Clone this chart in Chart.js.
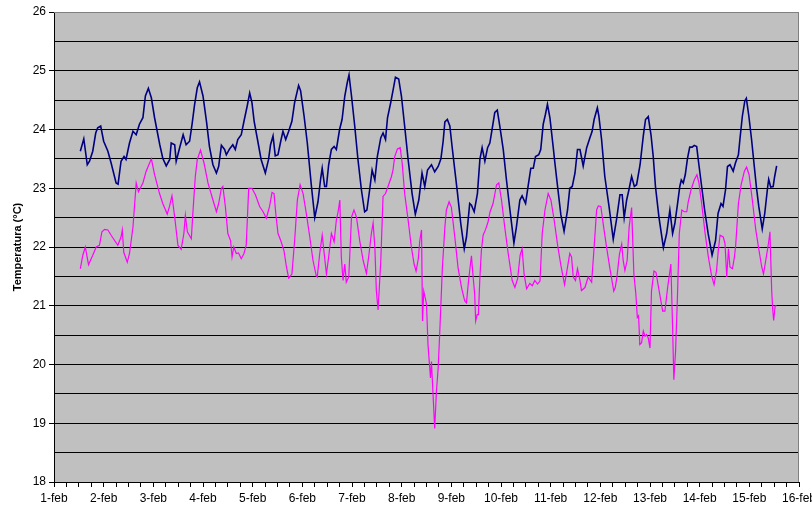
<!DOCTYPE html>
<html>
<head>
<meta charset="utf-8">
<script src="https://cdn.jsdelivr.net/npm/chart.js@4"></script>
<style>
  body { margin: 0; background: #fff; overflow: hidden; }
</style>
</head>
<body>
<canvas id="grafico" width="812" height="512"></canvas>
<script>
// días de febrero (eje x) y etiquetas
const etiquetasDias = ['1-feb', '2-feb', '3-feb', '4-feb', '5-feb', '6-feb', '7-feb', '8-feb',
    '9-feb', '10-feb', '11-feb', '12-feb', '13-feb', '14-feb', '15-feb', '16-feb'];
const etiquetasTemp = [18, 19, 20, 21, 22, 23, 24, 25, 26];

// [día, temperatura °C]
const serieAzul = [
    [1.53,23.63],[1.60,23.84],[1.67,23.40],[1.715,23.46],[1.78,23.63],[1.84,23.94],[1.88,24.03],[1.94,24.06],
    [2.00,23.80],[2.085,23.63],[2.15,23.43],[2.25,23.09],[2.29,23.07],[2.35,23.46],[2.41,23.54],[2.45,23.49],
    [2.52,23.77],[2.59,23.97],[2.655,23.91],[2.72,24.09],[2.79,24.20],[2.84,24.57],[2.90,24.70],[2.96,24.54],
    [3.025,24.20],[3.13,23.74],[3.19,23.51],[3.26,23.38],[3.33,23.49],[3.36,23.77],[3.43,23.74],[3.46,23.46],
    [3.53,23.69],[3.60,23.91],[3.66,23.74],[3.73,23.80],[3.78,24.09],[3.83,24.42],[3.885,24.71],[3.93,24.81],
    [4.00,24.57],[4.07,24.14],[4.13,23.71],[4.20,23.40],[4.27,23.26],[4.315,23.37],[4.37,23.73],[4.435,23.66],
    [4.47,23.57],[4.535,23.67],[4.60,23.74],[4.65,23.66],[4.70,23.83],[4.77,23.91],[4.825,24.14],[4.89,24.40],
    [4.94,24.62],[4.985,24.46],[5.03,24.14],[5.11,23.77],[5.17,23.49],[5.255,23.26],[5.32,23.49],[5.36,23.74],
    [5.41,23.89],[5.455,23.55],[5.51,23.57],[5.565,23.80],[5.61,23.97],[5.665,23.83],[5.725,23.97],[5.79,24.14],
    [5.845,24.46],[5.925,24.75],[5.965,24.66],[6.035,24.23],[6.10,23.77],[6.18,23.06],[6.25,22.50],[6.315,22.77],
    [6.37,23.17],[6.40,23.34],[6.45,23.03],[6.485,23.03],[6.53,23.40],[6.585,23.66],[6.64,23.71],[6.685,23.66],
    [6.75,24.00],[6.80,24.17],[6.855,24.57],[6.905,24.80],[6.94,24.93],[6.99,24.57],[7.055,24.06],[7.12,23.49],
    [7.19,22.97],[7.255,22.60],[7.30,22.63],[7.355,22.97],[7.405,23.31],[7.46,23.14],[7.51,23.54],[7.58,23.86],
    [7.625,23.94],[7.675,23.83],[7.715,24.20],[7.78,24.46],[7.825,24.66],[7.875,24.89],[7.94,24.86],[7.995,24.57],
    [8.06,24.06],[8.13,23.49],[8.21,22.91],[8.275,22.56],[8.345,22.80],[8.41,23.26],[8.465,23.03],[8.52,23.31],
    [8.60,23.40],[8.665,23.28],[8.735,23.37],[8.79,23.50],[8.835,23.80],[8.87,24.13],[8.92,24.17],[8.97,24.06],
    [9.015,23.71],[9.07,23.31],[9.125,22.91],[9.19,22.40],[9.26,21.97],[9.305,22.17],[9.37,22.74],[9.405,22.71],
    [9.46,22.60],[9.525,22.91],[9.575,23.49],[9.62,23.69],[9.675,23.46],[9.73,23.69],[9.775,23.77],[9.82,24.00],
    [9.875,24.29],[9.925,24.33],[9.975,24.06],[10.045,23.66],[10.11,23.14],[10.18,22.63],[10.26,22.07],[10.31,22.34],
    [10.38,22.80],[10.425,22.87],[10.495,22.74],[10.545,23.03],[10.60,23.34],[10.65,23.34],[10.695,23.54],[10.76,23.57],
    [10.80,23.66],[10.85,24.09],[10.895,24.26],[10.935,24.43],[10.985,24.20],[11.05,23.71],[11.085,23.43],[11.15,22.95],
    [11.205,22.55],[11.27,22.27],[11.34,22.63],[11.385,23.00],[11.435,23.03],[11.49,23.26],[11.54,23.66],[11.59,23.66],
    [11.655,23.38],[11.725,23.69],[11.79,23.86],[11.835,23.97],[11.875,24.17],[11.94,24.37],[11.97,24.23],[12.025,23.83],
    [12.09,23.20],[12.175,22.69],[12.26,22.13],[12.325,22.46],[12.395,22.89],[12.44,22.89],[12.48,22.50],[12.53,22.80],
    [12.575,22.97],[12.63,23.20],[12.685,23.03],[12.73,23.06],[12.80,23.40],[12.865,23.89],[12.91,24.17],[12.965,24.22],
    [13.02,23.91],[13.065,23.54],[13.11,23.03],[13.18,22.51],[13.27,21.99],[13.335,22.23],[13.40,22.63],[13.455,22.23],
    [13.50,22.40],[13.555,22.74],[13.60,23.03],[13.63,23.14],[13.67,23.09],[13.71,23.23],[13.755,23.51],[13.80,23.70],
    [13.85,23.70],[13.89,23.73],[13.94,23.71],[13.98,23.43],[14.04,23.03],[14.10,22.63],[14.17,22.23],[14.25,21.86],
    [14.32,22.11],[14.37,22.57],[14.43,22.74],[14.47,22.69],[14.52,22.97],[14.56,23.37],[14.61,23.40],[14.675,23.29],
    [14.72,23.43],[14.78,23.57],[14.81,23.83],[14.86,24.23],[14.91,24.49],[14.94,24.53],[14.99,24.23],[15.045,23.83],
    [15.10,23.37],[15.145,23.00],[15.19,22.69],[15.26,22.31],[15.31,22.57],[15.37,23.03],[15.39,23.15],[15.43,23.02],
    [15.48,23.03],[15.51,23.20],[15.55,23.38]
];

const serieRosa = [
    [1.53,21.63],[1.58,21.86],[1.63,22.00],[1.695,21.70],[1.78,21.86],[1.85,22.00],[1.915,22.03],[1.965,22.26],
    [2.02,22.30],[2.085,22.29],[2.15,22.20],[2.22,22.11],[2.285,22.03],[2.35,22.17],[2.375,22.29],[2.405,21.91],
    [2.475,21.74],[2.52,21.89],[2.59,22.34],[2.655,23.09],[2.70,22.94],[2.79,23.09],[2.855,23.29],[2.96,23.50],
    [3.025,23.23],[3.125,22.91],[3.19,22.74],[3.28,22.56],[3.325,22.69],[3.375,22.87],[3.43,22.51],[3.495,22.03],
    [3.56,21.96],[3.615,22.23],[3.645,22.54],[3.685,22.26],[3.765,22.14],[3.80,22.63],[3.845,23.20],[3.885,23.49],
    [3.95,23.65],[4.02,23.43],[4.10,23.09],[4.20,22.80],[4.27,22.60],[4.315,22.74],[4.37,23.00],[4.40,23.03],
    [4.45,22.69],[4.50,22.23],[4.555,22.11],[4.585,21.83],[4.62,22.00],[4.67,21.89],[4.715,21.90],[4.77,21.80],
    [4.825,21.89],[4.87,22.03],[4.92,23.00],[4.985,23.00],[5.055,22.89],[5.14,22.69],[5.21,22.60],[5.275,22.49],
    [5.34,22.69],[5.39,22.93],[5.43,22.91],[5.465,22.57],[5.51,22.23],[5.565,22.11],[5.63,21.94],[5.68,21.66],
    [5.725,21.47],[5.79,21.54],[5.845,22.11],[5.90,22.80],[5.955,23.06],[6.015,22.91],[6.08,22.57],[6.15,22.17],
    [6.215,21.77],[6.28,21.51],[6.30,21.49],[6.35,21.89],[6.40,22.20],[6.44,21.89],[6.485,21.54],[6.53,21.83],
    [6.585,22.23],[6.64,22.09],[6.685,22.46],[6.72,22.60],[6.755,22.80],[6.785,21.83],[6.82,21.43],[6.855,21.71],
    [6.885,21.40],[6.935,21.49],[6.99,22.51],[7.04,22.63],[7.09,22.51],[7.155,22.11],[7.225,21.77],[7.29,21.55],
    [7.335,21.83],[7.39,22.23],[7.425,22.41],[7.46,22.00],[7.49,21.26],[7.525,20.93],[7.58,21.77],[7.625,22.86],
    [7.675,22.91],[7.725,23.03],[7.795,23.20],[7.825,23.31],[7.86,23.54],[7.915,23.67],[7.97,23.69],[8.01,23.43],
    [8.06,22.91],[8.13,22.46],[8.195,22.00],[8.25,21.71],[8.29,21.59],[8.335,21.80],[8.365,22.11],[8.40,22.29],
    [8.42,20.74],[8.445,21.25],[8.465,21.17],[8.50,21.03],[8.53,20.34],[8.55,20.11],[8.58,19.77],[8.60,20.05],
    [8.635,19.43],[8.665,18.91],[8.70,19.54],[8.735,19.94],[8.765,20.51],[8.82,21.65],[8.87,22.34],[8.90,22.63],
    [8.955,22.77],[9.00,22.68],[9.07,22.17],[9.135,21.65],[9.205,21.31],[9.27,21.08],[9.305,21.05],[9.34,21.37],
    [9.37,21.60],[9.405,21.85],[9.44,21.48],[9.47,21.20],[9.49,20.74],[9.52,20.85],[9.545,20.85],[9.575,21.48],
    [9.605,21.94],[9.64,22.20],[9.69,22.30],[9.74,22.43],[9.78,22.60],[9.84,22.74],[9.91,23.06],[9.955,23.09],
    [10.01,22.80],[10.075,22.34],[10.145,21.89],[10.225,21.43],[10.28,21.31],[10.335,21.46],[10.385,21.86],[10.425,21.97],
    [10.465,21.54],[10.515,21.29],[10.58,21.38],[10.63,21.34],[10.68,21.43],[10.735,21.37],[10.785,21.42],[10.83,22.23],
    [10.885,22.63],[10.95,22.91],[11.005,22.80],[11.07,22.46],[11.14,22.03],[11.205,21.69],[11.28,21.36],[11.34,21.66],
    [11.385,21.89],[11.42,21.83],[11.455,21.49],[11.50,21.43],[11.54,21.63],[11.59,21.43],[11.62,21.26],[11.69,21.31],
    [11.755,21.49],[11.825,21.40],[11.875,22.00],[11.925,22.63],[11.96,22.70],[12.01,22.69],[12.06,22.38],[12.125,22.00],
    [12.19,21.65],[12.27,21.25],[12.30,21.31],[12.33,21.46],[12.385,21.88],[12.43,22.05],[12.46,21.77],[12.495,21.60],
    [12.54,21.77],[12.58,22.34],[12.63,22.67],[12.675,21.54],[12.715,21.20],[12.745,20.80],[12.77,20.83],[12.795,20.34],
    [12.83,20.37],[12.865,20.57],[12.90,20.48],[12.93,20.51],[12.965,20.45],[13.00,20.28],[13.03,21.25],[13.08,21.59],
    [13.12,21.57],[13.185,21.25],[13.255,20.91],[13.30,20.91],[13.355,21.31],[13.42,21.71],[13.455,20.63],[13.48,19.74],
    [13.515,20.23],[13.55,21.08],[13.59,22.23],[13.64,22.63],[13.69,22.60],[13.74,22.60],[13.77,22.77],[13.825,22.97],
    [13.89,23.14],[13.945,23.23],[13.985,23.09],[14.04,22.74],[14.11,22.23],[14.175,21.83],[14.24,21.51],[14.29,21.36],
    [14.34,21.60],[14.375,21.94],[14.41,22.20],[14.475,22.17],[14.51,22.06],[14.545,21.49],[14.58,21.97],[14.61,21.66],
    [14.66,21.63],[14.70,21.83],[14.725,22.03],[14.78,22.74],[14.835,23.06],[14.90,23.29],[14.945,23.36],[14.995,23.23],
    [15.06,22.80],[15.13,22.29],[15.195,21.94],[15.25,21.66],[15.285,21.54],[15.33,21.77],[15.385,22.06],[15.415,22.26],
    [15.45,21.26],[15.47,20.95],[15.49,20.75],[15.52,21.00],[15.55,21.00]
];

Chart.defaults.font.family = 'Arial, "Liberation Sans", sans-serif';
Chart.defaults.font.size = 12;
Chart.defaults.color = '#000';

// fondo gris del área de trazado
const fondoGris = {
    id: 'fondoGris',
    beforeDraw(chart) {
        const { ctx, chartArea: a } = chart;
        ctx.save();
        ctx.fillStyle = '#c0c0c0';
        ctx.fillRect(a.left, a.top, a.right - a.left, a.bottom - a.top);
        ctx.restore();
    },
    afterDraw(chart) {
        const { ctx, chartArea: a } = chart;
        ctx.save();
        ctx.strokeStyle = '#808080';
        ctx.lineWidth = 1;
        ctx.beginPath();
        ctx.moveTo(a.left, a.top + 0.5);
        ctx.lineTo(a.right - 0.5, a.top + 0.5);
        ctx.lineTo(a.right - 0.5, a.bottom);
        ctx.stroke();
        ctx.restore();
    }
};

const aPuntos = serie => serie.map(([d, t]) => ({ x: d, y: t }));

new Chart(document.getElementById('grafico'), {
    type: 'line',
    data: {
        datasets: [{
            label: 'Temperatura 1',
            data: aPuntos(serieAzul),
            borderColor: '#000080',
            borderWidth: 1.6,
            pointRadius: 0,
            tension: 0
        }, {
            label: 'Temperatura 2',
            data: aPuntos(serieRosa),
            borderColor: '#ff00ff',
            borderWidth: 1.2,
            pointRadius: 0,
            tension: 0
        }]
    },
    options: {
        responsive: false,
        animation: false,
        layout: { padding: { top: 12, right: 13, left: 0, bottom: 0 } },
        plugins: {
            legend: { display: false },
            tooltip: { enabled: false }
        },
        scales: {
            x: {
                type: 'linear',
                min: 1,
                max: 16,
                afterFit: s => { s.height = 30; s.paddingLeft = 0; s.paddingRight = 0; },
                afterBuildTicks: s => {
                    s.ticks = [];
                    for (let v = 1; v <= 16.001; v += 0.25) s.ticks.push({ value: Math.round(v * 100) / 100 });
                },
                ticks: {
                    autoSkip: false,
                    maxRotation: 0,
                    padding: 4,
                    callback: v => Number.isInteger(v) ? etiquetasDias[v - 1] : ''
                },
                grid: {
                    drawOnChartArea: false,
                    tickLength: 5,
                    tickColor: '#000'
                },
                border: { color: '#000', width: 1 }
            },
            y: {
                min: 18,
                max: 26,
                afterFit: s => { s.width = 54; },
                afterBuildTicks: s => {
                    s.ticks = [];
                    for (let v = 18; v <= 26; v += 0.5) s.ticks.push({ value: v });
                },
                ticks: {
                    autoSkip: false,
                    padding: 3,
                    callback: v => etiquetasTemp.includes(v) ? String(v) : ''
                },
                grid: {
                    color: c => c.tick && c.tick.value === 26 ? '#808080' : '#000',
                    tickColor: c => c.tick && Number.isInteger(c.tick.value) ? '#000' : 'rgba(0,0,0,0)',
                    tickLength: 5
                },
                border: { color: '#000', width: 1 },
                title: {
                    display: true,
                    text: 'Temperatura (°C)',
                    font: { size: 11, weight: 'bold' },
                    padding: { top: 11, bottom: 0 }
                }
            }
        }
    },
    plugins: [fondoGris]
});
</script>
</body>
</html>
